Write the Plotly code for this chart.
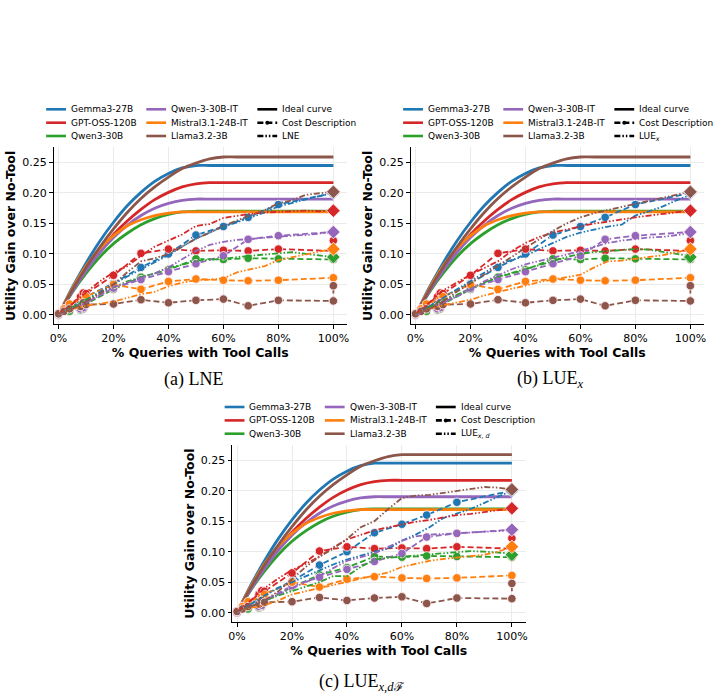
import plotly.graph_objects as go

W, H = 719, 696

# ---------------- data ----------------
MODELS = ["Gemma3-27B", "GPT-OSS-120B", "Qwen3-30B", "Qwen-3-30B-IT", "Mistral3.1-24B-IT", "Llama3.2-3B"]
COLORS = ["#1f77b4", "#d62728", "#2ca02c", "#9467bd", "#ff7f0e", "#8c564b"]

# Ideal curves (same in all panels)
IDEAL_X = [0, 5, 10, 15, 20, 25, 30, 35, 40, 45, 50, 55, 60, 65, 100]
IDEAL_GEMMA = [0, 0.045, 0.085, 0.121, 0.152, 0.179, 0.201, 0.219, 0.232, 0.241, 0.245, 0.245, 0.245, 0.245, 0.245]
IDEAL_GPT = [0, 0.040, 0.075, 0.105, 0.132, 0.154, 0.173, 0.189, 0.201, 0.210, 0.215, 0.217, 0.217, 0.217, 0.217]
IDEAL_QWEN = [0, 0.037, 0.068, 0.095, 0.117, 0.134, 0.148, 0.158, 0.165, 0.169, 0.170, 0.170, 0.170, 0.170, 0.170]
IDEAL_QWENIT = [0, 0.038, 0.072, 0.102, 0.127, 0.147, 0.163, 0.175, 0.183, 0.188, 0.190, 0.190, 0.190, 0.190, 0.190]
IDEAL_MISTRAL = [0, 0.043, 0.080, 0.109, 0.130, 0.146, 0.156, 0.163, 0.167, 0.169, 0.169, 0.169, 0.169, 0.169, 0.169]
IDEAL_LLAMA = [0, 0.041, 0.078, 0.111, 0.141, 0.168, 0.191, 0.210, 0.226, 0.240, 0.249, 0.256, 0.259, 0.259, 0.259]

# Cost Description (same in all panels)
COST_X_GEMMA = [0, 4, 8, 10, 20, 30, 40, 50, 60, 69, 80, 100]
COST_Y_GEMMA = [0.002, 0.012, 0.022, 0.030, 0.052, 0.078, 0.100, 0.131, 0.145, 0.160, 0.181, 0.200]
COST_X_GPT = [0, 2, 8, 9, 10, 20, 30, 40, 50, 60, 69, 80, 100, 100]
COST_Y_GPT = [0.002, 0.010, 0.030, 0.036, 0.035, 0.065, 0.101, 0.108, 0.105, 0.106, 0.105, 0.108, 0.105, 0.122]
COST_X_QWEN = [0, 4, 8, 9, 10, 20, 30, 40, 50, 60, 69, 80, 100]
COST_Y_QWEN = [0.0, 0.006, 0.008, 0.010, 0.018, 0.042, 0.062, 0.074, 0.092, 0.091, 0.093, 0.092, 0.091]
COST_X_QWENIT = [0, 8, 9, 10, 20, 30, 40, 50, 60, 69, 80, 100]
COST_Y_QWENIT = [0.0, 0.010, 0.012, 0.020, 0.044, 0.058, 0.071, 0.084, 0.097, 0.124, 0.130, 0.136]
COST_X_MISTRAL = [0, 2, 4, 9, 10, 20, 30, 40, 50, 60, 69, 80, 100]
COST_Y_MISTRAL = [0.002, 0.010, 0.018, 0.026, 0.030, 0.050, 0.042, 0.055, 0.059, 0.057, 0.056, 0.057, 0.061]
COST_X_LLAMA = [0, 2, 4, 8, 9, 10, 20, 30, 40, 50, 60, 69, 80, 100, 100]
COST_Y_LLAMA = [0.002, 0.006, 0.010, 0.014, 0.020, 0.017, 0.018, 0.025, 0.020, 0.024, 0.026, 0.015, 0.024, 0.023, 0.048]

# Always-call endpoints (diamonds at 100%)
DIAMOND_X = 100
DIAMOND_Y = [0.200, 0.171, 0.095, 0.136, 0.108, 0.202]

# Method curves
METHOD_X = [0, 5, 10, 15, 20, 25, 30, 35, 40, 45, 50, 55, 60, 65, 70, 75, 80, 85, 90, 95, 100]

LNE_GEMMA = [0.002, 0.012, 0.025, 0.038, 0.050, 0.063, 0.075, 0.087, 0.098, 0.112, 0.125, 0.135, 0.145, 0.152, 0.160, 0.168, 0.178, 0.184, 0.190, 0.195, 0.200]
LNE_GPT = [0.002, 0.018, 0.037, 0.055, 0.070, 0.080, 0.097, 0.112, 0.122, 0.132, 0.146, 0.149, 0.159, 0.163, 0.166, 0.168, 0.169, 0.170, 0.171, 0.170, 0.171]
LNE_QWEN = [0.0, 0.012, 0.025, 0.035, 0.045, 0.055, 0.062, 0.068, 0.078, 0.082, 0.089, 0.090, 0.092, 0.095, 0.097, 0.099, 0.102, 0.103, 0.100, 0.098, 0.095]
LNE_QWENIT = [0.0, 0.010, 0.020, 0.032, 0.046, 0.053, 0.060, 0.068, 0.078, 0.092, 0.105, 0.115, 0.120, 0.123, 0.125, 0.126, 0.128, 0.130, 0.131, 0.133, 0.136]
LNE_MISTRAL = [0.002, 0.010, 0.015, 0.018, 0.022, 0.028, 0.034, 0.038, 0.047, 0.053, 0.057, 0.058, 0.060, 0.070, 0.075, 0.080, 0.090, 0.095, 0.100, 0.104, 0.108]
LNE_LLAMA = [0.002, 0.010, 0.022, 0.035, 0.050, 0.070, 0.088, 0.093, 0.100, 0.112, 0.125, 0.135, 0.146, 0.155, 0.163, 0.172, 0.183, 0.188, 0.197, 0.199, 0.202]

LUEX_GEMMA = [0.002, 0.014, 0.028, 0.042, 0.055, 0.070, 0.083, 0.090, 0.097, 0.108, 0.118, 0.128, 0.135, 0.140, 0.145, 0.148, 0.163, 0.170, 0.178, 0.188, 0.197]
LUEX_GPT = [0.002, 0.020, 0.040, 0.053, 0.066, 0.077, 0.088, 0.105, 0.118, 0.128, 0.135, 0.140, 0.145, 0.150, 0.153, 0.157, 0.160, 0.163, 0.166, 0.169, 0.171]
LUEX_QWEN = [0.0, 0.012, 0.024, 0.033, 0.043, 0.054, 0.063, 0.069, 0.075, 0.082, 0.088, 0.095, 0.100, 0.103, 0.105, 0.107, 0.108, 0.107, 0.103, 0.100, 0.097]
LUEX_QWENIT = [0.0, 0.010, 0.020, 0.030, 0.042, 0.055, 0.065, 0.075, 0.083, 0.089, 0.094, 0.099, 0.105, 0.112, 0.118, 0.122, 0.125, 0.127, 0.128, 0.131, 0.134]
LUEX_MISTRAL = [0.002, 0.010, 0.016, 0.020, 0.025, 0.032, 0.038, 0.043, 0.048, 0.054, 0.058, 0.062, 0.066, 0.078, 0.088, 0.089, 0.092, 0.095, 0.098, 0.103, 0.108]
LUEX_LLAMA = [0.002, 0.010, 0.022, 0.038, 0.052, 0.066, 0.080, 0.095, 0.110, 0.124, 0.138, 0.150, 0.160, 0.167, 0.172, 0.178, 0.183, 0.188, 0.193, 0.198, 0.202]

LUEXD_GEMMA = [0.002, 0.014, 0.028, 0.040, 0.050, 0.060, 0.070, 0.079, 0.087, 0.094, 0.100, 0.105, 0.118, 0.128, 0.140, 0.155, 0.163, 0.170, 0.180, 0.190, 0.200]
LUEXD_GPT = [0.002, 0.020, 0.040, 0.056, 0.070, 0.080, 0.092, 0.107, 0.120, 0.128, 0.135, 0.140, 0.145, 0.149, 0.152, 0.156, 0.160, 0.162, 0.165, 0.168, 0.171]
LUEXD_QWEN = [0.0, 0.010, 0.020, 0.028, 0.035, 0.043, 0.050, 0.060, 0.060, 0.075, 0.087, 0.090, 0.092, 0.093, 0.095, 0.097, 0.100, 0.101, 0.100, 0.099, 0.097]
LUEXD_QWENIT = [0.0, 0.010, 0.020, 0.030, 0.040, 0.050, 0.060, 0.073, 0.085, 0.091, 0.097, 0.108, 0.118, 0.125, 0.128, 0.129, 0.130, 0.131, 0.132, 0.134, 0.135]
LUEXD_MISTRAL = [0.002, 0.008, 0.012, 0.020, 0.030, 0.035, 0.040, 0.045, 0.050, 0.055, 0.060, 0.066, 0.075, 0.080, 0.085, 0.088, 0.090, 0.092, 0.095, 0.100, 0.108]
LUEXD_LLAMA = [0.002, 0.010, 0.020, 0.035, 0.055, 0.075, 0.092, 0.105, 0.121, 0.140, 0.150, 0.170, 0.188, 0.192, 0.193, 0.196, 0.200, 0.203, 0.206, 0.205, 0.202]

X_TICKS = [0, 20, 40, 60, 80, 100]
X_TICK_TEXT = ["0%", "20%", "40%", "60%", "80%", "100%"]
Y_TICKS = [0.00, 0.05, 0.10, 0.15, 0.20, 0.25]
Y_TICK_TEXT = ["0.00", "0.05", "0.10", "0.15", "0.20", "0.25"]
X_TITLE = "% Queries with Tool Calls"
Y_TITLE = "Utility Gain over No-Tool"
METHOD_LABELS = ["LNE", "LUE<sub><i>x</i></sub>", "LUE<sub><i>x</i>, <i>d</i></sub>"]
CAPTIONS = ["(a) LNE", "(b) LUE<sub><i>x</i></sub>",
            "(c) LUE<sub><i>x</i>,<i>d</i><span style='font-size:12px'>ℱ</span></sub>"]

IDEAL_Y = [IDEAL_GEMMA, IDEAL_GPT, IDEAL_QWEN, IDEAL_QWENIT, IDEAL_MISTRAL, IDEAL_LLAMA]
COST_X = [COST_X_GEMMA, COST_X_GPT, COST_X_QWEN, COST_X_QWENIT, COST_X_MISTRAL, COST_X_LLAMA]
COST_Y = [COST_Y_GEMMA, COST_Y_GPT, COST_Y_QWEN, COST_Y_QWENIT, COST_Y_MISTRAL, COST_Y_LLAMA]
METHOD_Y = [
    [LNE_GEMMA, LNE_GPT, LNE_QWEN, LNE_QWENIT, LNE_MISTRAL, LNE_LLAMA],
    [LUEX_GEMMA, LUEX_GPT, LUEX_QWEN, LUEX_QWENIT, LUEX_MISTRAL, LUEX_LLAMA],
    [LUEXD_GEMMA, LUEXD_GPT, LUEXD_QWEN, LUEXD_QWENIT, LUEXD_MISTRAL, LUEXD_LLAMA],
]

# ---------------- layout geometry (pixels) ----------------
PANELS = [  # left, right, top, bottom of axes box
    dict(l=50, r=346, t=147.4, b=324.3, cap=(191, 379)),
    dict(l=410, r=706, t=147.4, b=324.3, cap=(551, 379)),
    dict(l=230, r=526, t=445.1, b=622.0, cap=(361, 682)),
]
X_RANGE = [-1.8, 105.0]
Y_RANGE = [-0.0153, 0.2747]

FONT = "DejaVu Sans"
DASH_COST = "6px,3px"
DASH_METHOD = "6px,2px,1.5px,2px,1.5px,2px"

fig = go.Figure()


def px(x):
    return x / W


def py(y):
    return 1 - y / H


shapes = []
annotations = []

for p, pan in enumerate(PANELS):
    sfx = "" if p == 0 else str(p + 1)
    xa, ya = "x" + sfx, "y" + sfx
    # ideal curves
    for i in range(6):
        fig.add_trace(go.Scatter(
            x=IDEAL_X, y=IDEAL_Y[i], xaxis=xa, yaxis=ya, mode="lines",
            line=dict(color=COLORS[i], width=2.8, shape="spline", smoothing=0.8),
            showlegend=False, hoverinfo="skip"))
    # cost description
    for i in range(6):
        fig.add_trace(go.Scatter(
            x=COST_X[i], y=COST_Y[i], xaxis=xa, yaxis=ya, mode="lines+markers",
            line=dict(color=COLORS[i], width=1.8, dash=DASH_COST),
            marker=dict(symbol="circle", size=8.5, color=COLORS[i],
                        line=dict(color="rgba(255,235,240,0.9)", width=1)),
            showlegend=False, hoverinfo="skip"))
    # method curves
    for i in range(6):
        fig.add_trace(go.Scatter(
            x=METHOD_X, y=METHOD_Y[p][i], xaxis=xa, yaxis=ya, mode="lines",
            line=dict(color=COLORS[i], width=1.8, dash=DASH_METHOD),
            showlegend=False, hoverinfo="skip"))
    # endpoints
    for i in range(6):
        fig.add_trace(go.Scatter(
            x=[DIAMOND_X], y=[DIAMOND_Y[i]], xaxis=xa, yaxis=ya, mode="markers",
            marker=dict(symbol="diamond", size=10.5, color=COLORS[i],
                        line=dict(color="rgba(255,235,240,0.9)", width=1)),
            showlegend=False, hoverinfo="skip"))

    axis_common = dict(
        showline=True, linecolor="black", linewidth=1.1, mirror=False,
        ticks="outside", ticklen=3.5, tickwidth=1, tickcolor="black",
        showgrid=True, gridcolor="#ebebeb", gridwidth=1, zeroline=False,
        tickfont=dict(family=FONT, size=11, color="black"),
    )
    fig.update_layout(**{
        "xaxis" + sfx: dict(
            axis_common, domain=[px(pan["l"]), px(pan["r"])], anchor=ya,
            range=X_RANGE, tickmode="array", tickvals=X_TICKS, ticktext=X_TICK_TEXT,
            title=dict(text=X_TITLE, font=dict(family=FONT, size=12.5, color="black", weight="bold"),
                       standoff=4)),
        "yaxis" + sfx: dict(
            axis_common, domain=[py(pan["b"]), py(pan["t"])], anchor=xa,
            range=Y_RANGE, tickmode="array", tickvals=Y_TICKS, ticktext=Y_TICK_TEXT,
            title=dict(text=Y_TITLE, font=dict(family=FONT, size=12.5, color="black", weight="bold"),
                       standoff=3)),
    })

    # ---- manual legend ----
    rows = [pan["t"] - 38.1, pan["t"] - 24.7, pan["t"] - 11.4]
    cols = [pan["l"] - 7.5, pan["l"] + 93.5, pan["l"] + 205.5]
    entries = []
    for i in range(6):
        entries.append((MODELS[i], COLORS[i], "solid", False))
    entries.append(("Ideal curve", "black", "solid", False))
    entries.append(("Cost Description", "black", DASH_COST, True))
    entries.append((METHOD_LABELS[p], "black", DASH_METHOD, False))
    order = [(0, 0), (0, 1), (0, 2), (1, 0), (1, 1), (1, 2), (2, 0), (2, 1), (2, 2)]
    for (label, color, dash, dot), (c, r) in zip(entries, order):
        x0, yy = cols[c], rows[r]
        shapes.append(dict(type="line", xref="paper", yref="paper",
                           x0=px(x0), x1=px(x0 + 20), y0=py(yy), y1=py(yy),
                           line=dict(color=color, width=2.6, dash=dash)))
        if dot:
            shapes.append(dict(type="circle", xref="paper", yref="paper",
                               x0=px(x0 + 8), x1=px(x0 + 12), y0=py(yy + 2), y1=py(yy - 2),
                               fillcolor="black", line=dict(color="black", width=0)))
        annotations.append(dict(text=label, xref="paper", yref="paper",
                                x=px(x0 + 23), y=py(yy), xanchor="left", yanchor="middle",
                                showarrow=False, font=dict(family=FONT, size=9, color="black")))
    # caption
    annotations.append(dict(text=CAPTIONS[p], xref="paper", yref="paper",
                            x=px(pan["cap"][0]), y=py(pan["cap"][1]), xanchor="center", yanchor="middle",
                            showarrow=False, font=dict(family="Liberation Serif", size=18, color="black")))

fig.update_layout(
    width=W, height=H, margin=dict(l=0, r=0, t=0, b=0),
    paper_bgcolor="white", plot_bgcolor="white",
    showlegend=False, shapes=shapes, annotations=annotations,
)

fig.write_html("out.html")
